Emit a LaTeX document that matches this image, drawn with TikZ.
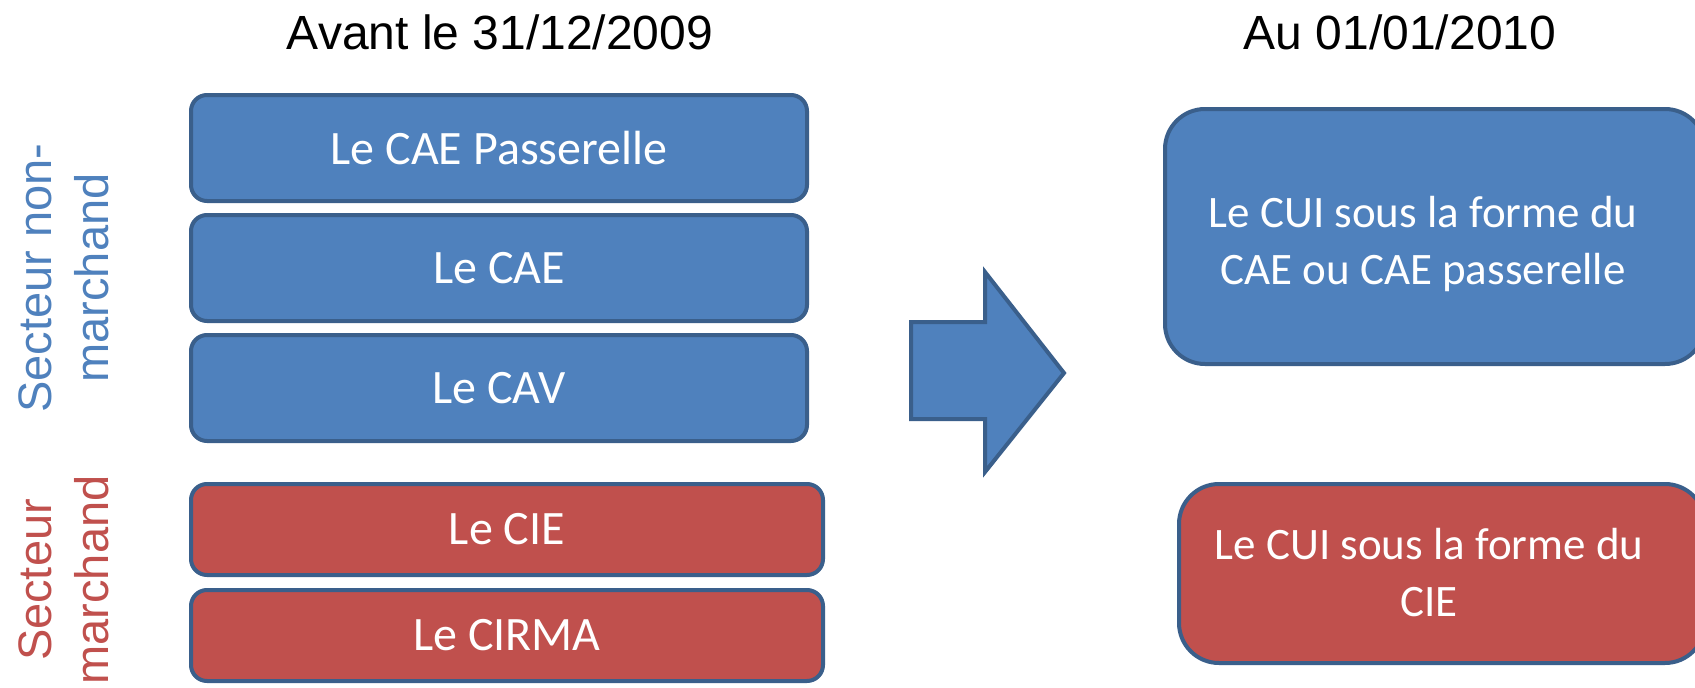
\documentclass[tikz,border=0pt]{standalone}
\usepackage{fontspec}
\setmainfont{Liberation Sans}
\newfontfamily\boxfont{Carlito}
\definecolor{bfill}{HTML}{4F81BD}
\definecolor{rfill}{HTML}{C0504D}
\definecolor{edge}{HTML}{3A5F8B}
\begin{document}
\begin{tikzpicture}[x=1pt,y=-1pt,
  box/.style={draw=edge,line width=4pt,rounded corners=16pt,inner sep=0pt,
    text=white,font=\boxfont\fontsize{48}{58}\selectfont,align=center},
  bluebox/.style={box,fill=bfill},
  redbox/.style={box,fill=rfill},
  bigbox/.style={rounded corners=40pt},
  bigtext/.style={text=white,font=\boxfont\fontsize{45}{57}\selectfont,align=center},
  title/.style={font=\fontsize{48}{56}\selectfont,text=black},
  side/.style={font=\fontsize{47}{57}\selectfont,align=center,rotate=90,inner sep=0pt}
]
\useasboundingbox (0,0) rectangle (1695,688);
\clip (0,0) rectangle (1695,688);
\fill[white] (0,0) rectangle (1695,688);

\node[title] (t1) at (500,32) {Avant le 31/12/2009};
\node[title] (t2) at (1400,32) {Au 01/01/2010};

\node[bluebox,minimum width=616pt,minimum height=106pt] (b1) at (499,148) {Le CAE Passerelle};
\node[bluebox,minimum width=616pt,minimum height=106pt] (b2) at (499,268) {Le CAE};
\node[bluebox,minimum width=616pt,minimum height=106pt] (b3) at (499,388) {Le CAV};
\node[redbox,minimum width=632pt,minimum height=91pt] (b4) at (507,529.5) {Le CIE};
\node[redbox,minimum width=632pt,minimum height=91pt] (b5) at (507,635.5) {Le CIRMA};

\node[bluebox,bigbox,minimum width=540pt,minimum height=255pt] (n1) at (1435,236.5) {};
\node[bigtext] (n1t) at (1423,244) {Le CUI sous la forme du\\CAE ou CAE passerelle};
\node[redbox,bigbox,minimum width=526pt,minimum height=179pt] (n2) at (1442,573.5) {};
\node[bigtext] (n2t) at (1429,573) {Le CUI sous la forme du\\CIE};

\node[side,text=bfill] (s1) at (64,278) {Secteur non-\\marchand};
\node[side,text=rfill] (s2) at (64,580) {Secteur\\marchand};

\draw[draw=edge,fill=bfill,line width=4pt,line join=miter]
  (911,322) -- (985,322) -- (985,272) -- (1064,373) -- (985,472) -- (985,419) -- (911,419) -- cycle;
\end{tikzpicture}
\end{document}
